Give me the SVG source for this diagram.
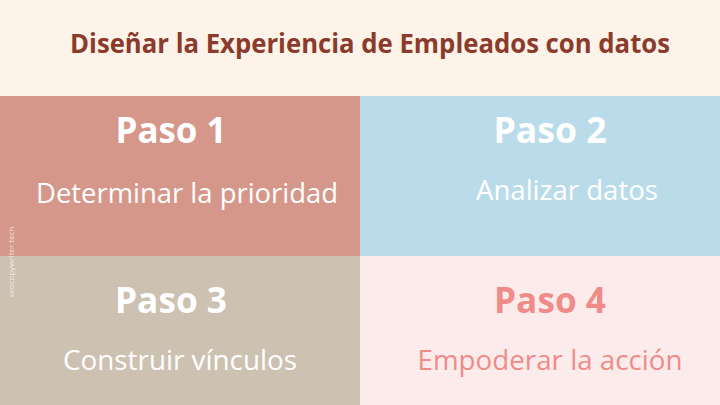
<svg xmlns="http://www.w3.org/2000/svg" width="720" height="405" viewBox="0 0 720 405">
<style>
.t{font-family:"Open Sans","Liberation Sans",sans-serif;text-anchor:middle}
.h{font-size:35px;font-weight:700;fill:#ffffff}
.b{font-size:27px;font-weight:400;fill:#ffffff}
</style>
<rect width="720" height="405" fill="#fdf3e8"/>
<text class="t" x="370" y="53" font-size="26" font-weight="700" fill="#8a3b2b" textLength="600" lengthAdjust="spacingAndGlyphs">Diseñar la Experiencia de Empleados con datos</text>
<g id="paso1">
<rect x="0" y="96" width="360" height="160" fill="#d6978b"/>
<text class="t h" x="171" y="143" textLength="111" lengthAdjust="spacingAndGlyphs">Paso 1</text>
<text class="t b" x="187" y="203" textLength="302" lengthAdjust="spacingAndGlyphs">Determinar la prioridad</text>
</g>
<g id="paso2">
<rect x="360" y="96" width="360" height="160" fill="#badcea"/>
<text class="t h" x="550" y="143" textLength="113" lengthAdjust="spacingAndGlyphs">Paso 2</text>
<text class="t b" x="567" y="200" textLength="182" lengthAdjust="spacingAndGlyphs">Analizar datos</text>
</g>
<g id="paso3">
<rect x="0" y="256" width="360" height="149" fill="#cdc1b2"/>
<text class="t h" x="171" y="313" textLength="112" lengthAdjust="spacingAndGlyphs">Paso 3</text>
<text class="t b" x="180" y="370" textLength="234" lengthAdjust="spacingAndGlyphs">Construir vínculos</text>
</g>
<g id="paso4">
<rect x="360" y="256" width="360" height="149" fill="#fbeceb"/>
<text class="t h" x="550" y="313" style="fill:#ef8b89" textLength="112" lengthAdjust="spacingAndGlyphs">Paso 4</text>
<text class="t b" x="550" y="370" style="fill:#ef8b89" textLength="265" lengthAdjust="spacingAndGlyphs">Empoderar la acción</text>
</g>
<text class="t" x="0" y="0" transform="translate(14,262) rotate(-90)" font-size="8" fill="#ffffff" fill-opacity="0.7">seocopywriter.tech</text>
</svg>
